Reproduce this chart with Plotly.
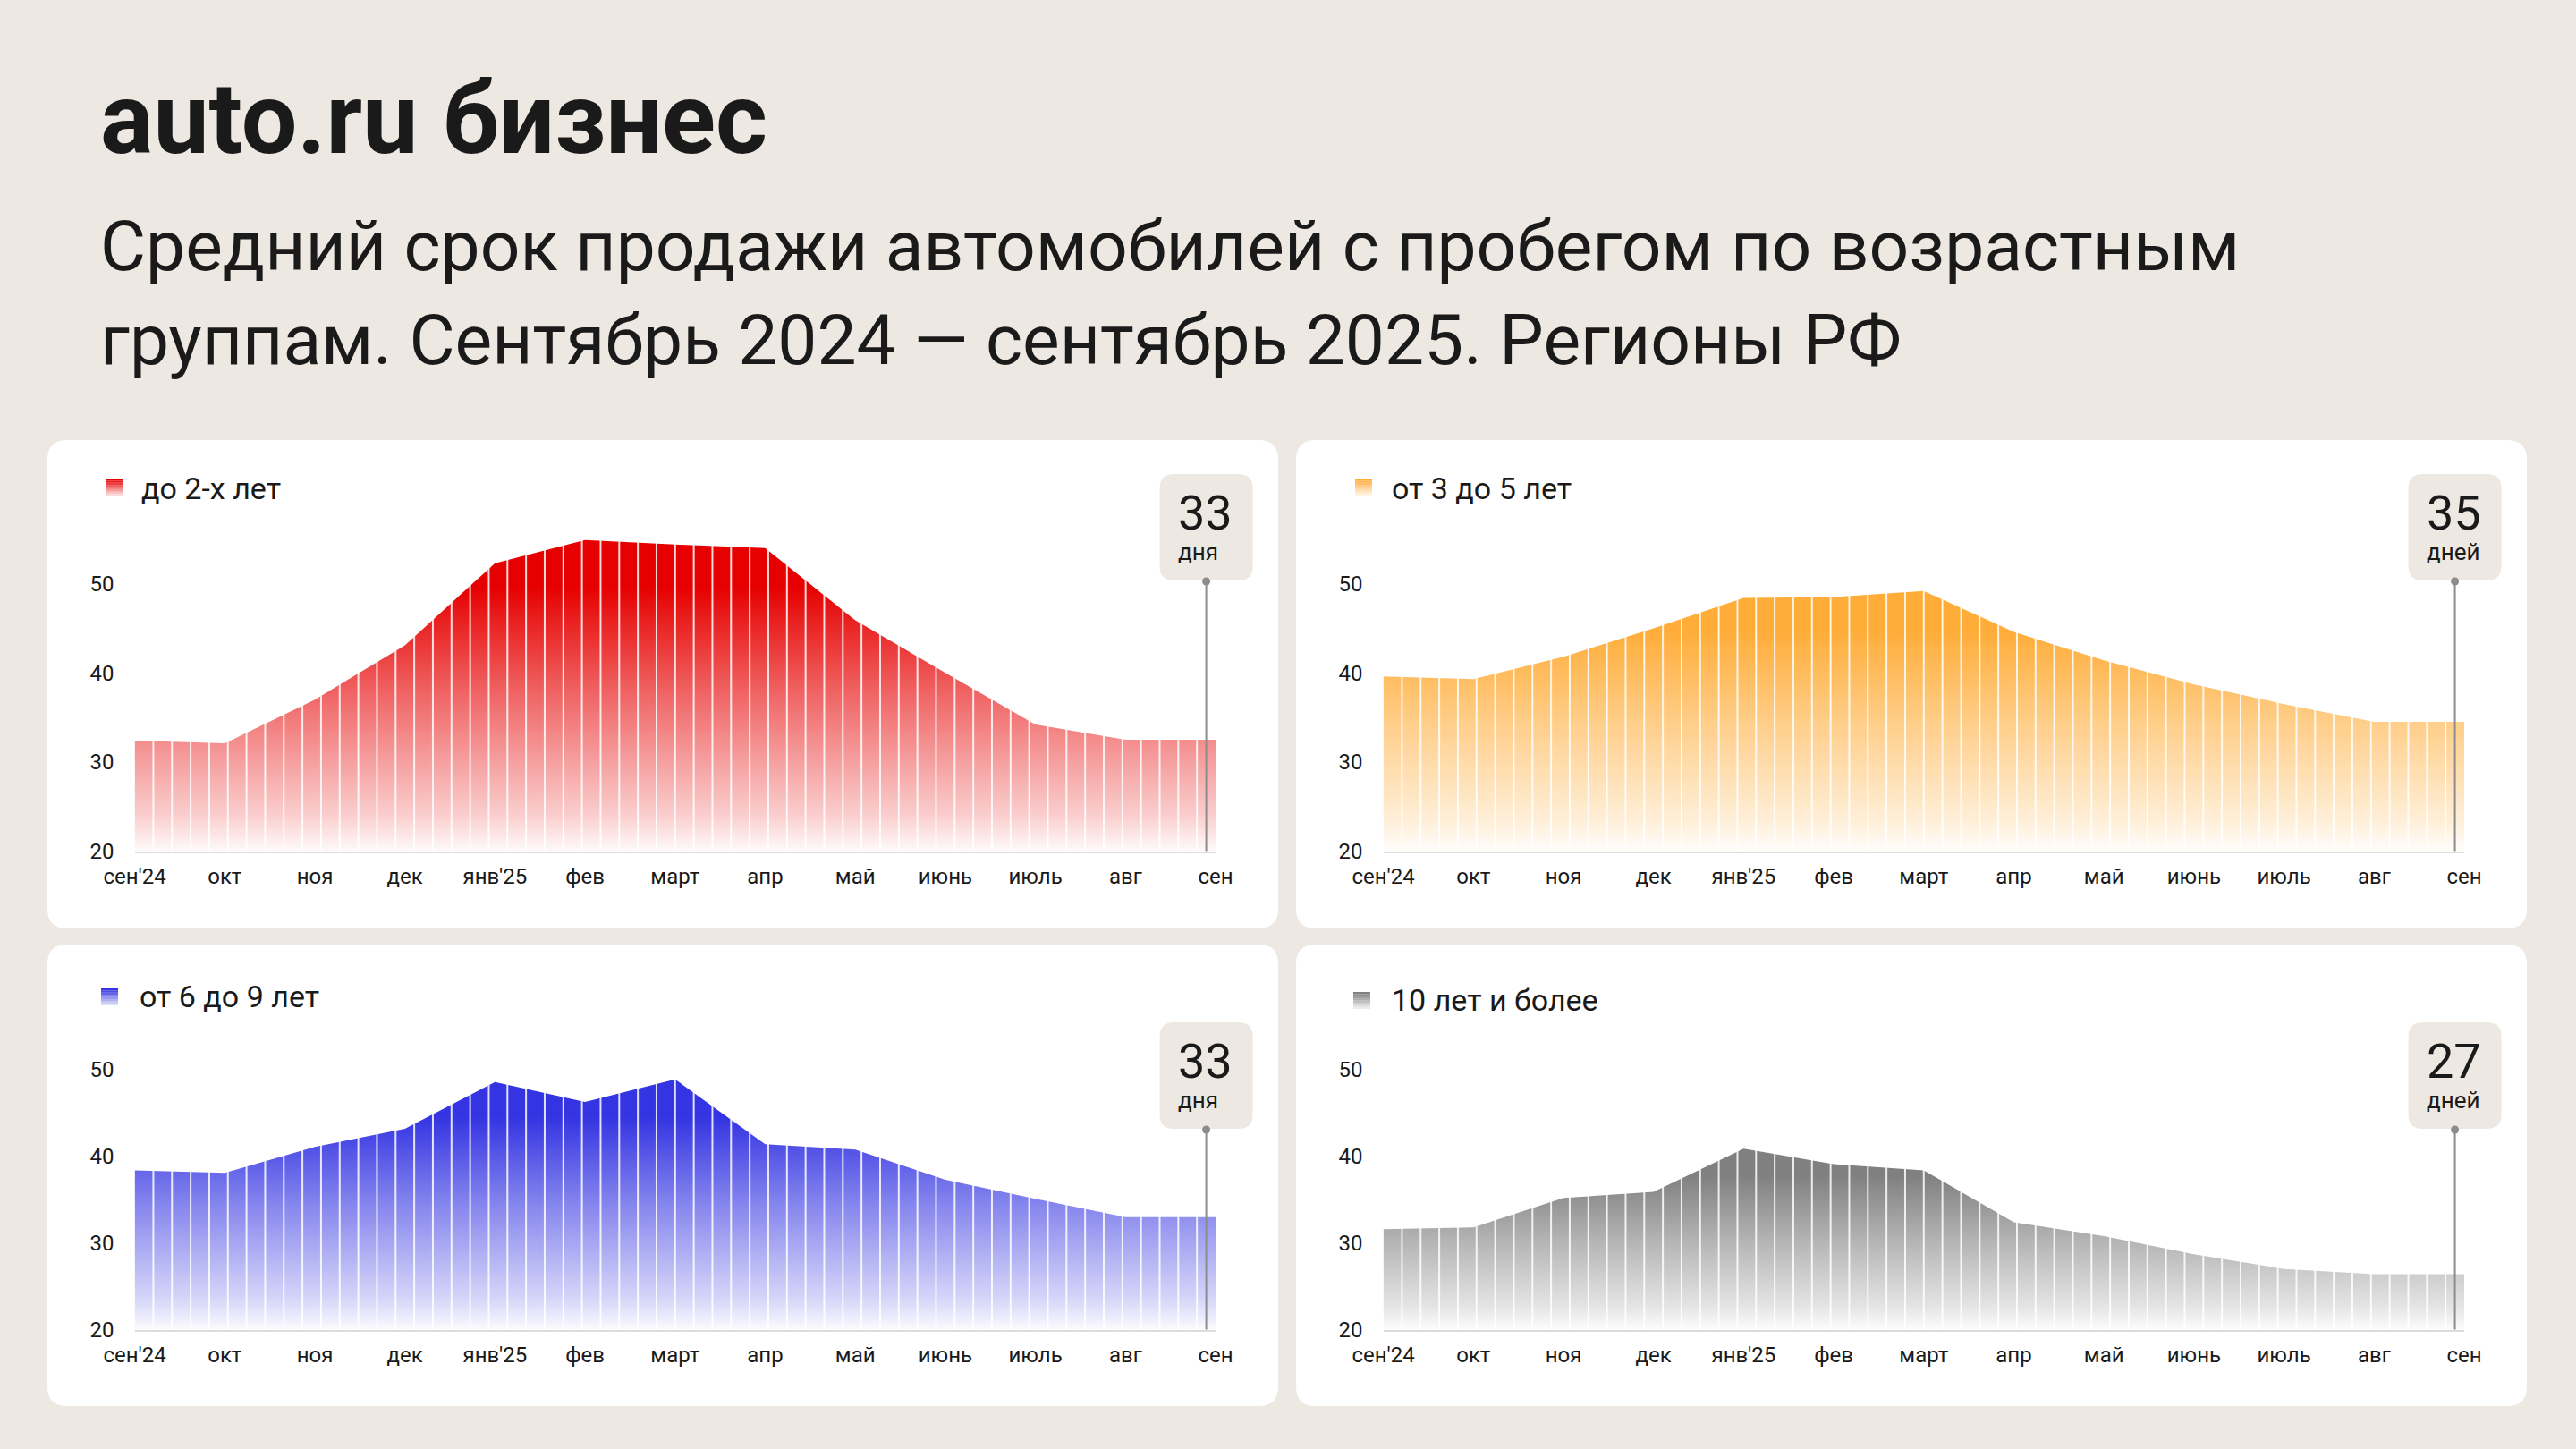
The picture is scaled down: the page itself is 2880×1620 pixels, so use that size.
import plotly.graph_objects as go

W, H = 2880, 1620
FONT = "Roboto"
INK = "#1a1a1a"
BG = "#EEE8E2"

# --- data -------------------------------------------------------------
months = ["сен'24", "окт", "ноя", "дек", "янв'25", "фев", "март",
          "апр", "май", "июнь", "июль", "авг", "сен"]

up_to_2 = [32.4, 32.1, 37.0, 43.1, 52.3, 54.9, 54.4, 54.0, 45.9, 40.0, 34.2, 32.5, 32.5]
from_3_to_5 = [39.6, 39.3, 41.8, 45.0, 48.4, 48.5, 49.2, 44.6, 41.4, 38.7, 36.5, 34.5, 34.5]
from_6_to_9 = [38.4, 38.1, 41.1, 43.2, 48.6, 46.3, 48.9, 41.4, 40.8, 37.3, 35.1, 33.0, 33.0]
over_10 = [31.6, 31.8, 35.2, 35.9, 40.9, 39.1, 38.4, 32.4, 30.8, 28.7, 27.0, 26.4, 26.4]

group_names = ["до 2-х лет", "от 3 до 5 лет", "от 6 до 9 лет", "10 лет и более"]
current_days = ["33", "35", "33", "27"]
day_words = ["дня", "дней", "дня", "дней"]

series = [up_to_2, from_3_to_5, from_6_to_9, over_10]
rgb = [(230, 0, 0), (255, 172, 56), (52, 52, 226), (128, 128, 128)]

# --- layout geometry (pixels of the 2880x1620 canvas) --------------------
panels = [
    dict(box=(53, 492, 1429, 1038), xdom=(150.6, 1359), ydom=(592.9, 951.5),
         mark=(118, 535), label=(158, 546, 34), callout_top=530),
    dict(box=(1449, 492, 2825, 1038), xdom=(1546.6, 2755), ydom=(592.9, 951.5),
         mark=(1515, 535), label=(1556, 546, 34), callout_top=530),
    dict(box=(53, 1056, 1429, 1572), xdom=(150.6, 1359), ydom=(1138, 1486.5),
         mark=(113, 1105), label=(156, 1114, 34), callout_top=1143),
    dict(box=(1449, 1056, 2825, 1572), xdom=(1546.6, 2755), ydom=(1138, 1486.5),
         mark=(1513, 1109), label=(1556, 1118, 34), callout_top=1143),
]
Y_RANGE = [20, 56]
N_BARS = 58


def px(x):
    return x / W


def py(y):
    return 1 - y / H


def rounded_rect(x0, y0, x1, y1, r):
    def p(x, y):
        return f"{px(x):.5f},{py(y):.5f}"
    return (f"M {p(x0 + r, y0)} L {p(x1 - r, y0)} Q {p(x1, y0)} {p(x1, y0 + r)} "
            f"L {p(x1, y1 - r)} Q {p(x1, y1)} {p(x1 - r, y1)} L {p(x0 + r, y1)} "
            f"Q {p(x0, y1)} {p(x0, y1 - r)} L {p(x0, y0 + r)} Q {p(x0, y0)} {p(x0 + r, y0)} Z")


def rgba(c, a):
    return f"rgba({c[0]},{c[1]},{c[2]},{a})"


fig = go.Figure()
shapes = []
annotations = []

for i, (vals, col, pan) in enumerate(zip(series, rgb, panels)):
    n = "" if i == 0 else str(i + 1)
    xa, ya = "x" + n, "y" + n

    fig.add_trace(go.Scatter(
        x=list(range(len(months))), y=vals, xaxis=xa, yaxis=ya,
        mode="lines", line=dict(width=0, color=rgba(col, 1)),
        fill="tozeroy",
        fillgradient=dict(
            type="vertical", start=20, stop=max(vals),
            colorscale=[[0, rgba(col, 0.02)], [0.12, rgba(col, 0.2)],
                        [0.5, rgba(col, 0.6)], [0.85, rgba(col, 1)], [1, rgba(col, 1)]],
        ),
        hoverinfo="skip", showlegend=False,
    ))

    # thin white gaps that split the area into bars
    xs, ys = [], []
    for k in range(1, N_BARS):
        xs += [k * 12 / N_BARS, k * 12 / N_BARS, None]
        ys += [Y_RANGE[0], Y_RANGE[1], None]
    fig.add_trace(go.Scatter(
        x=xs, y=ys, xaxis=xa, yaxis=ya, mode="lines",
        line=dict(width=2, color="rgba(255,255,255,0.85)"),
        hoverinfo="skip", showlegend=False,
    ))

    x0d, x1d = pan["xdom"]
    y0d, y1d = pan["ydom"]
    fig.update_layout({
        "xaxis" + n: dict(
            domain=[px(x0d), px(x1d)], anchor=ya, range=[0, 12], automargin=False,
            tickmode="array", tickvals=list(range(len(months))), ticktext=months,
            showgrid=False, zeroline=False, showline=True,
            linecolor="#DCDCDC", linewidth=2, ticks="",
            tickfont=dict(size=24, color=INK, family=FONT),
            ticklabelstandoff=6,
        ),
        "yaxis" + n: dict(
            domain=[py(y1d), py(y0d)], anchor=xa, range=Y_RANGE, automargin=False,
            tickvals=[20, 30, 40, 50], showgrid=False, zeroline=False,
            showline=False, ticks="",
            tickfont=dict(size=24, color=INK, family=FONT),
            ticklabelstandoff=22,
        ),
    })

    # white card behind the chart
    bx0, by0, bx1, by1 = pan["box"]
    shapes.append(dict(type="path", path=rounded_rect(bx0, by0, bx1, by1, 22),
                       xref="paper", yref="paper", fillcolor="white",
                       line=dict(width=0), layer="below"))

    # legend swatch with a fading gradient
    mx, my = pan["mark"]
    steps = 8
    for s in range(steps):
        shapes.append(dict(type="rect", xref="paper", yref="paper",
                           x0=px(mx), x1=px(mx + 19),
                           y0=py(my + 19 * s / steps), y1=py(my + 19 * (s + 1) / steps),
                           fillcolor=rgba(col, round(1 - 0.85 * s / (steps - 1), 3)),
                           line=dict(width=0)))
    lx, ly, lsize = pan["label"]
    annotations.append(dict(text=group_names[i], xref="paper", yref="paper",
                            x=px(lx - 2), y=py(ly), xanchor="left", yanchor="middle",
                            showarrow=False, font=dict(size=lsize, color=INK, family=FONT)))

    # callout for the latest value
    last_x = 12 - 0.5 * 12 / N_BARS
    line_px = x0d + last_x / 12 * (x1d - x0d)
    top = pan["callout_top"]
    bottom = top + 119
    shapes.append(dict(type="path", path=rounded_rect(line_px - 52, top, line_px + 52, bottom, 16),
                       xref="paper", yref="paper", fillcolor=BG, line=dict(width=0)))
    shapes.append(dict(type="line", xref="paper", yref="paper",
                       x0=px(line_px), x1=px(line_px), y0=py(bottom + 1), y1=py(y1d),
                       line=dict(color="#8C8C8C", width=2)))
    shapes.append(dict(type="circle", xref="paper", yref="paper",
                       x0=px(line_px - 4.5), x1=px(line_px + 4.5),
                       y0=py(bottom + 5.5), y1=py(bottom - 3.5),
                       fillcolor="#8C8C8C", line=dict(width=0)))
    annotations.append(dict(
        text=f"<span style='font-size:54px'>{current_days[i]}</span><br>{day_words[i]}",
        xref="paper", yref="paper", x=px(line_px - 34), y=py(top + 10),
        xanchor="left", yanchor="top", align="left", showarrow=False,
        font=dict(size=26, color=INK, family=FONT)))

# headline
annotations.append(dict(text="<b>auto.ru бизнес</b>", xref="paper", yref="paper",
                        x=px(110), y=py(133), xanchor="left", yanchor="middle",
                        showarrow=False, font=dict(size=111, color=INK, family=FONT)))
annotations.append(dict(text="Средний срок продажи автомобилей с пробегом по возрастным",
                        xref="paper", yref="paper", x=px(110), y=py(275),
                        xanchor="left", yanchor="middle", showarrow=False,
                        font=dict(size=78.5, color=INK, family=FONT)))
annotations.append(dict(text="группам. Сентябрь 2024 — сентябрь 2025. Регионы РФ",
                        xref="paper", yref="paper", x=px(110), y=py(380),
                        xanchor="left", yanchor="middle", showarrow=False,
                        font=dict(size=78.5, color=INK, family=FONT)))

fig.update_layout(
    width=W, height=H, margin=dict(l=0, r=0, t=0, b=0, autoexpand=False),
    paper_bgcolor=BG, plot_bgcolor="rgba(0,0,0,0)",
    font=dict(family=FONT, color=INK),
    shapes=shapes, annotations=annotations, showlegend=False,
)

fig.write_html("out.html", config={"displayModeBar": False},
               post_script="document.body.style.margin='0px';")
